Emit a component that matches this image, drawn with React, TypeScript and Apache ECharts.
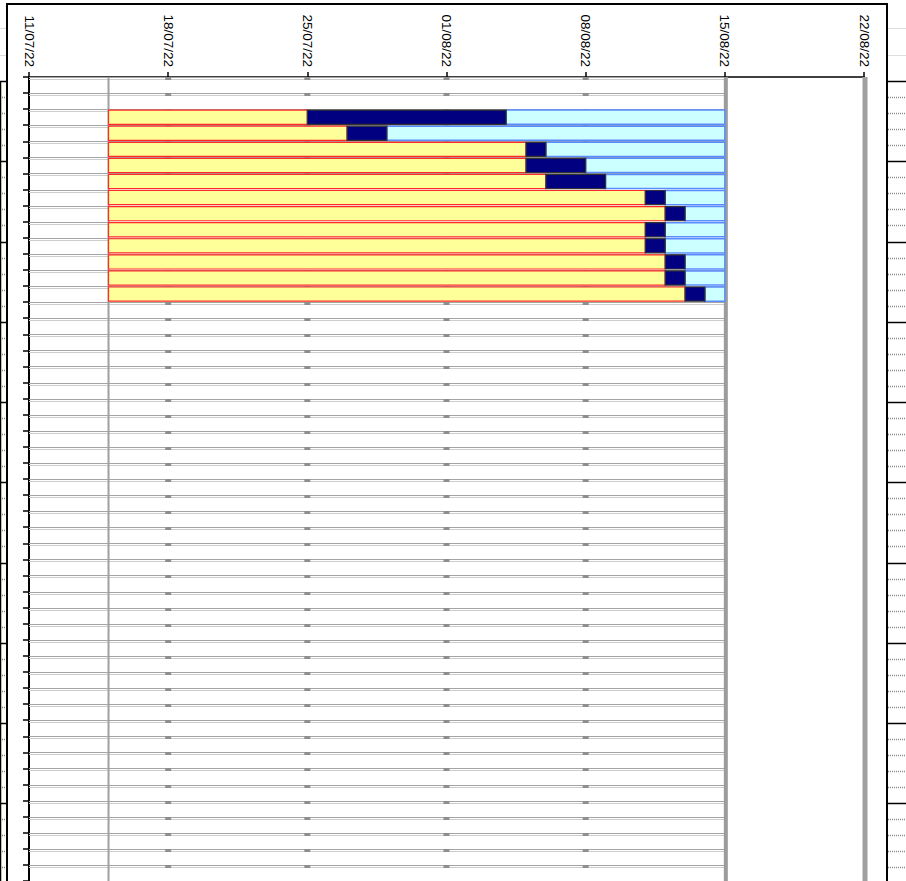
import React, { useEffect, useRef } from "react";
import * as echarts from "echarts";

// ---- data ----
const ROW_COUNT = 50;
const rowLabels: string[] = Array.from({ length: ROW_COUNT }, (_, i) => `Ligne ${i + 1}`);

const AXIS_START = "11/07/22";
const AXIS_END = "22/08/22";
const tickDates = ["11/07/22", "18/07/22", "25/07/22", "01/08/22", "08/08/22", "15/08/22", "22/08/22"];
const projectStart = "15/07/22";
const statusDate = "15/08/22";

const taskRows = [2, 3, 4, 5, 6, 7, 8, 9, 10, 11, 12, 13];
const taskStart = ["15/07/22", "15/07/22", "15/07/22", "15/07/22", "15/07/22", "15/07/22", "15/07/22", "15/07/22", "15/07/22", "15/07/22", "15/07/22", "15/07/22"];
const doneEnd = ["25/07/22", "27/07/22", "05/08/22", "05/08/22", "06/08/22", "11/08/22", "12/08/22", "11/08/22", "11/08/22", "12/08/22", "12/08/22", "13/08/22"];
const activeEnd = ["04/08/22", "29/07/22", "06/08/22", "08/08/22", "09/08/22", "12/08/22", "13/08/22", "12/08/22", "12/08/22", "13/08/22", "13/08/22", "14/08/22"];
const taskFinish = ["15/08/22", "15/08/22", "15/08/22", "15/08/22", "15/08/22", "15/08/22", "15/08/22", "15/08/22", "15/08/22", "15/08/22", "15/08/22", "15/08/22"];

// ---- helpers ----
const BASE = Date.UTC(2022, 6, 11);
const DAY = 86400000;
function toDay(s: string): number {
  const [d, m, y] = s.split("/").map(Number);
  return Math.round((Date.UTC(2000 + y, m - 1, d) - BASE) / DAY);
}
function fmt(day: number): string {
  const t = new Date(BASE + Math.round(day) * DAY);
  const dd = String(t.getUTCDate()).padStart(2, "0");
  const mm = String(t.getUTCMonth() + 1).padStart(2, "0");
  const yy = String(t.getUTCFullYear() % 100).padStart(2, "0");
  return `${dd}/${mm}/${yy}`;
}

const LABEL_FONT = '"Liberation Sans", Arial, sans-serif';

export default function App() {
  const ref = useRef<HTMLDivElement>(null);

  useEffect(() => {
    if (!ref.current) return;
    const chart = echarts.init(ref.current, undefined, { renderer: "svg" });

    const axisMin = toDay(AXIS_START);
    const axisMax = toDay(AXIS_END);
    const innerTicks = tickDates.map(toDay).filter((d) => d > axisMin && d < toDay(statusDate));

    const gridRows = rowLabels.map((_, i) => [i, axisMin, toDay(statusDate)]);
    const verticals = [[toDay(projectStart), 0], [toDay(statusDate), 1], [axisMax, 2]];
    const bars = taskRows.map((r, i) => [r, toDay(taskStart[i]), toDay(doneEnd[i]), toDay(activeEnd[i]), toDay(taskFinish[i])]);

    // decorative sheet fragments outside the frame
    const deco: any[] = [];
    deco.push({ type: "rect", z: 0, shape: { x: 0, y: 81, width: 6, height: 820 }, style: { fill: "#fffff4" } });
    for (let k = 0; k <= 50; k++) {
      const y = Math.round(81 + 16.05 * k) + 0.5;
      const black = k % 5 === 0;
      [[0, 6], [888, 906]].forEach(([a, b]) => {
        deco.push({
          type: "line",
          z: 1,
          shape: { x1: a, y1: y, x2: b, y2: y },
          style: black ? { stroke: "#000", lineWidth: 1.5 } : { stroke: "#8a8a8a", lineWidth: 1.5, lineDash: [1, 1] },
        });
      });
    }
    deco.push({ type: "line", z: 1, shape: { x1: 0.5, y1: 81, x2: 0.5, y2: 881 }, style: { stroke: "#000", lineWidth: 1.5 } });
    [28, 55].forEach((y) => {
      deco.push({ type: "line", z: 1, shape: { x1: 0, y1: y + 0.5, x2: 6, y2: y + 0.5 }, style: { stroke: "#dddddd", lineWidth: 1 } });
      deco.push({ type: "line", z: 1, shape: { x1: 888, y1: y + 0.5, x2: 906, y2: y + 0.5 }, style: { stroke: "#dddddd", lineWidth: 1 } });
    });
    deco.push({ type: "rect", z: 2, shape: { x: 7, y: 4, width: 880, height: 900 }, style: { fill: "none", stroke: "#000", lineWidth: 2 } });

    const option: any = {
      animation: false,
      backgroundColor: "#ffffff",
      grid: { left: 29, right: 42, top: 77, bottom: -1, containLabel: false },
      xAxis: {
        type: "value",
        position: "top",
        min: axisMin,
        max: axisMax,
        interval: 7,
        axisLine: { show: true, lineStyle: { color: "#000", width: 1.5 } },
        axisTick: { show: true, length: 5, lineStyle: { color: "#000", width: 1.5 } },
        axisLabel: {
          rotate: 90,
          margin: 10,
          color: "#000",
          fontSize: 13.5,
          fontFamily: LABEL_FONT,
          formatter: (v: number) => fmt(v),
        },
        splitLine: { show: false },
      },
      yAxis: {
        type: "category",
        data: rowLabels,
        inverse: true,
        axisLine: { show: true, lineStyle: { color: "#000", width: 2 } },
        axisTick: { show: true, interval: 0, length: 6, lineStyle: { color: "#000", width: 1.5 } },
        axisLabel: { show: false },
        splitLine: { show: false },
      },
      graphic: deco,
      series: [
        {
          type: "custom",
          name: "rows",
          silent: true,
          z: 1,
          data: gridRows,
          encode: { x: [1, 2], y: 0 },
          renderItem: (params: any, api: any) => {
            const row = api.value(0);
            const c0 = api.coord([api.value(1), row]);
            const c1 = api.coord([api.value(2), row]);
            const h = api.size([0, 1])[1];
            const top = Math.round(c0[1] - h / 2);
            const children: any[] = [
              { type: "line", shape: { x1: c0[0], y1: top + 0.5, x2: c1[0], y2: top + 0.5 }, style: { stroke: "#a4a4a4", lineWidth: 1 } },
              { type: "line", shape: { x1: c0[0], y1: top + 2.5, x2: c1[0], y2: top + 2.5 }, style: { stroke: "#cdcdcd", lineWidth: 1 } },
            ];
            innerTicks.forEach((d) => {
              const cx = api.coord([d, row])[0];
              children.push({ type: "rect", shape: { x: cx - 3, y: top, width: 6, height: 3 }, style: { fill: "#8e8e8e" } });
            });
            return { type: "group", children };
          },
        },
        {
          type: "custom",
          name: "verticals",
          silent: true,
          z: 2,
          data: verticals,
          encode: { x: 0 },
          renderItem: (params: any, api: any) => {
            const x = api.coord([api.value(0), 0])[0];
            const kind = api.value(1);
            const cs = params.coordSys;
            const widths = [2, 4, 5];
            const colors = ["#a0a0a0", "#9c9c9c", "#a0a0a0"];
            return {
              type: "line",
              shape: { x1: x + (kind === 0 ? 0 : 1), y1: cs.y, x2: x + (kind === 0 ? 0 : 1), y2: cs.y + cs.height },
              style: { stroke: colors[kind], lineWidth: widths[kind] },
            };
          },
        },
        {
          type: "custom",
          name: "tasks",
          z: 3,
          data: bars,
          encode: { x: [1, 2, 3, 4], y: 0 },
          renderItem: (params: any, api: any) => {
            const row = api.value(0);
            const xs = [1, 2, 3, 4].map((k) => api.coord([api.value(k), row])[0]);
            const cy = api.coord([api.value(1), row])[1];
            const h = api.size([0, 1])[1] * 0.88;
            const y = cy - h / 2;
            const seg = (a: number, b: number, fill: string, stroke: string, lw: number) => ({
              type: "rect",
              shape: { x: a, y, width: b - a, height: h },
              style: { fill, stroke, lineWidth: lw },
            });
            return {
              type: "group",
              children: [
                seg(xs[0], xs[1], "#ffff99", "#ff2a2a", 1.2),
                seg(xs[2], xs[3], "#ccffff", "#5b8cff", 1.5),
                seg(xs[1], xs[2], "#000080", "#333333", 1.2),
              ],
            };
          },
        },
      ],
    };

    chart.setOption(option);
    return () => chart.dispose();
  }, []);

  return <div ref={ref} style={{ position: "fixed", left: 0, top: 0, width: 906, height: 881, background: "#fff" }} />;
}
